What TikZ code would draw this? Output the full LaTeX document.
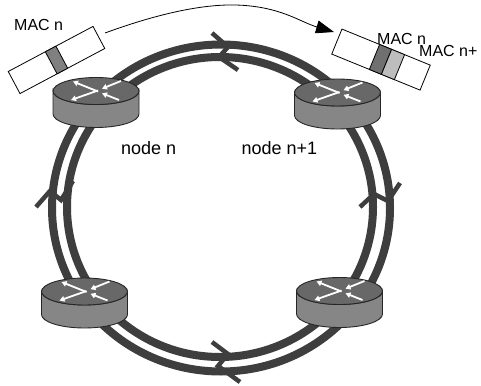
\documentclass[tikz,border=0pt]{standalone}
\usepackage{fontspec}
\setmainfont{Liberation Sans}
\usetikzlibrary{arrows.meta}
\definecolor{ringgray}{HTML}{3E3E3E}
\definecolor{routertop}{HTML}{686868}
\definecolor{routerside}{HTML}{868686}
\definecolor{bandmid}{HTML}{808080}
\definecolor{banddark}{HTML}{707070}
\definecolor{bandlight}{HTML}{BDBDBD}
\tikzset{
  ringline/.style={draw=ringgray, line width=8pt},
  chev/.style={draw=ringgray, line width=4.5pt, line join=miter},
  routerbody/.style={draw=black!85, line width=0.9pt},
  routerarrow/.style={draw=white, line width=1.8pt, -{Triangle[length=5pt,width=5.5pt]}},
  macbox/.style={draw=black, line width=0.8pt, fill=white, inner sep=0pt},
  macband/.style={draw=black, line width=0.8pt, inner sep=0pt},
  lbl/.style={inner sep=0pt, anchor=base west, font=\fontsize{18}{20}\selectfont},
  maclbl/.style={inner sep=0pt, anchor=base west, font=\fontsize{16}{18}\selectfont},
}
\newcommand{\routericon}[1]{%
  \begin{scope}[shift={(#1)}]
    \filldraw[routerbody, fill=routerside] (-43,-11.5) -- (-43,11.5)
      arc[start angle=180, end angle=0, x radius=43, y radius=13.5]
      -- (43,-11.5)
      arc[start angle=0, end angle=180, x radius=43, y radius=13.5] -- cycle;
    \filldraw[routerbody, fill=routertop] (0,-11.5) ellipse[x radius=43, y radius=13.5];
    \draw[routerarrow] (2,-11) -- (-23,-21);
    \draw[routerarrow] (2,-12) -- (-25,-2.5);
    \draw[routerarrow] (25,-21.5) -- (6,-13.8);
    \draw[routerarrow] (23,-2.5) -- (6,-9.2);
  \end{scope}}
\begin{document}
\begin{tikzpicture}[x=1pt, y=-1pt]
\fill[white] (0,0) rectangle (481,385);
\useasboundingbox (0,0) rectangle (481,385);
% ring
\draw[ringline] (221,208) ellipse[x radius=169, y radius=163.5];
\draw[ringline] (220,207) ellipse[x radius=153, y radius=150];
% direction marks
\draw[chev] (212,33) -- (228,47) -- (219,57) -- (238,70);
\draw[chev] (212,342) -- (228,354) -- (218,366) -- (240,382);
\draw[chev] (36,207) -- (50,191) -- (61,200) -- (73,181);
\draw[chev] (360,207) -- (374,194) -- (388,201) -- (400,183);
% routers
\coordinate (rtl) at (96,102.5);
\coordinate (rtr) at (337.5,104);
\coordinate (rbl) at (84.5,303);
\coordinate (rbr) at (339.5,302.5);
\routericon{rtl}
\routericon{rtr}
\routericon{rbl}
\routericon{rbr}
% MAC frames
\node[macbox, minimum width=96pt, minimum height=25pt, rotate=28] (boxl) at (56.5,60) {};
\node[macband, fill=bandmid, minimum width=12pt, minimum height=25pt, rotate=28] (bandl) at (56.5,60) {};
\node[macbox, minimum width=95.4pt, minimum height=27pt, rotate=-22.2] (boxr) at (381,59.6) {};
\node[macband, fill=banddark, minimum width=13pt, minimum height=27pt, rotate=-22.2] (bandrd) at (380.5,59.4) {};
\node[macband, fill=bandlight, minimum width=14pt, minimum height=27pt, rotate=-22.2] (bandrl) at (393,64.5) {};
% transfer arrow
\coordinate (arrs) at (105,33);
\coordinate (arre) at (334,32);
\draw[line width=0.8pt, -{Triangle[length=18pt,width=13pt]}] (arrs) .. controls (135,22) and (190,4) .. (235,5) .. controls (280,6) and (300,22) .. (arre);
% labels
\node[maclbl] (macl) at (14,31) {MAC n};
\node[maclbl] (macr1) at (377,44.3) {MAC n};
\node[maclbl] (macr2) at (419,56.7) {MAC n+};
\node[lbl] (nodel) at (121,154) {node n};
\node[lbl] (noder) at (241.5,154) {node n+1};
\end{tikzpicture}
\end{document}
